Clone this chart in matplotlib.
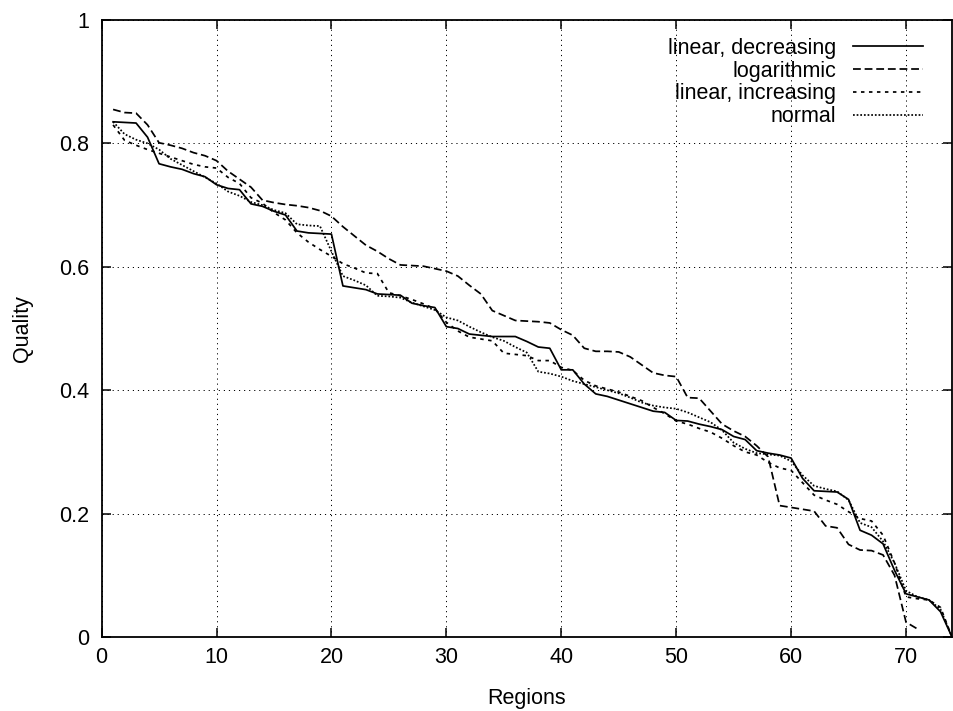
import numpy as np
import matplotlib.pyplot as plt

plt.rcParams['font.family'] = ['Liberation Sans', 'DejaVu Sans']

# Qualität je Region
lin_dec = [0.835, 0.834, 0.833, 0.810, 0.767, 0.762, 0.758, 0.751, 0.746, 0.733,
           0.727, 0.725, 0.702, 0.698, 0.690, 0.684, 0.658, 0.655, 0.654, 0.653,
           0.569, 0.566, 0.563, 0.556, 0.555, 0.554, 0.541, 0.537, 0.534, 0.503,
           0.500, 0.491, 0.489, 0.487, 0.487, 0.487, 0.479, 0.470, 0.468, 0.433,
           0.433, 0.410, 0.394, 0.390, 0.384, 0.378, 0.372, 0.366, 0.364, 0.351,
           0.350, 0.345, 0.341, 0.336, 0.325, 0.320, 0.302, 0.298, 0.295, 0.290,
           0.257, 0.237, 0.236, 0.235, 0.223, 0.173, 0.165, 0.151, 0.108, 0.070,
           0.065, 0.060, 0.041, 0.000]

log_q = [0.855, 0.850, 0.849, 0.830, 0.801, 0.797, 0.792, 0.785, 0.780, 0.772,
         0.755, 0.742, 0.729, 0.708, 0.704, 0.701, 0.699, 0.696, 0.691, 0.682,
         0.665, 0.650, 0.635, 0.625, 0.613, 0.603, 0.602, 0.601, 0.597, 0.593,
         0.585, 0.570, 0.556, 0.529, 0.521, 0.513, 0.512, 0.511, 0.509, 0.498,
         0.489, 0.468, 0.463, 0.463, 0.462, 0.454, 0.441, 0.428, 0.424, 0.422,
         0.388, 0.387, 0.366, 0.345, 0.334, 0.325, 0.310, 0.292, 0.213, 0.210,
         0.207, 0.204, 0.180, 0.177, 0.150, 0.141, 0.140, 0.133, 0.100, 0.024,
         0.013]

lin_inc = [0.830, 0.805, 0.797, 0.790, 0.784, 0.778, 0.772, 0.766, 0.762, 0.760,
           0.745, 0.735, 0.712, 0.703, 0.688, 0.676, 0.655, 0.640, 0.628, 0.617,
           0.605, 0.598, 0.590, 0.589, 0.558, 0.553, 0.547, 0.540, 0.532, 0.510,
           0.496, 0.486, 0.483, 0.480, 0.460, 0.458, 0.456, 0.448, 0.448, 0.437,
           0.432, 0.416, 0.407, 0.402, 0.397, 0.390, 0.383, 0.372, 0.362, 0.350,
           0.345, 0.338, 0.332, 0.322, 0.310, 0.300, 0.295, 0.283, 0.274, 0.270,
           0.250, 0.230, 0.222, 0.215, 0.203, 0.192, 0.188, 0.165, 0.120, 0.065,
           0.062, 0.060, 0.048, 0.000]

normal = [0.835, 0.815, 0.806, 0.800, 0.790, 0.775, 0.765, 0.755, 0.745, 0.735,
          0.722, 0.715, 0.705, 0.700, 0.692, 0.687, 0.669, 0.667, 0.666, 0.625,
          0.585, 0.578, 0.570, 0.553, 0.552, 0.550, 0.542, 0.536, 0.530, 0.518,
          0.513, 0.503, 0.494, 0.486, 0.480, 0.470, 0.461, 0.430, 0.427, 0.422,
          0.415, 0.410, 0.405, 0.400, 0.395, 0.388, 0.380, 0.375, 0.372, 0.370,
          0.364, 0.356, 0.348, 0.335, 0.315, 0.305, 0.298, 0.296, 0.294, 0.285,
          0.262, 0.245, 0.240, 0.236, 0.222, 0.185, 0.178, 0.155, 0.120, 0.075,
          0.065, 0.060, 0.045, 0.000]

labels = ["linear, decreasing", "logarithmic", "linear, increasing", "normal"]

fig = plt.figure(figsize=(9.54, 7.11), dpi=100)
ax = fig.add_axes([101.6 / 954, 74 / 711, 850.4 / 954, 617 / 711])

series = [lin_dec, log_q, lin_inc, normal]
styles = ['-', (0, (4.5, 2.2)), (0, (2.0, 2.6)), (0, (1.0, 1.1))]
for vals, ls, lab in zip(series, styles, labels):
    r = np.arange(1, len(vals) + 1)
    ax.plot(r, vals, color='black', lw=1.25, linestyle=ls, label=lab)

ax.set_xlim(0, 74)
ax.set_ylim(0, 1)
ax.set_xticks(range(0, 71, 10))
ax.set_yticks([0, 0.2, 0.4, 0.6, 0.8, 1])
ax.set_yticklabels(["0", "0.2", "0.4", "0.6", "0.8", "1"])
ax.grid(True, color='black', lw=0.7, linestyle=(0, (1.2, 4)))

ax.tick_params(direction='in', length=6.5, width=1.1, top=True, right=True,
               labelsize=15.5)
ax.tick_params(axis='x', pad=7)
ax.tick_params(axis='y', pad=9)
for s in ax.spines.values():
    s.set_linewidth(1.3)

ax.set_xlabel("Regions", fontsize=15.5)
ax.set_ylabel("Quality", fontsize=15.5)
ax.xaxis.set_label_coords(0.5, -0.083)
ax.yaxis.set_label_coords(-0.081, 0.5)

ax.legend(loc='upper right', bbox_to_anchor=(0.966, 0.971), frameon=False,
          markerfirst=False, fontsize=15.5, handlelength=3.25, handletextpad=0.8,
          labelspacing=0.08, borderpad=0, borderaxespad=0)

fig.savefig("out.png", dpi=100)
